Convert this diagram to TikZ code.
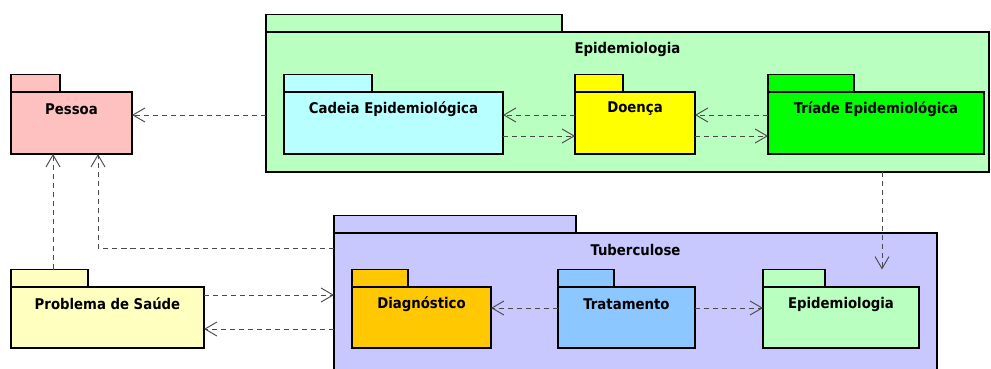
\documentclass[tikz,border=0pt]{standalone}
\usepackage{fontspec}
\setmainfont{DejaVu Sans Condensed}
\usetikzlibrary{arrows.meta,fit}

\definecolor{pessoafill}{HTML}{FFC0C0}
\definecolor{epifill}{HTML}{B8FFC0}
\definecolor{cadeiafill}{HTML}{B8FFFF}
\definecolor{doencafill}{HTML}{FFFF00}
\definecolor{triadefill}{HTML}{00FF00}
\definecolor{tuberfill}{HTML}{C8C8FF}
\definecolor{diagfill}{HTML}{FFC800}
\definecolor{tratfill}{HTML}{8CC8FF}
\definecolor{probfill}{HTML}{FFFFC0}
\definecolor{depgray}{HTML}{4A4A4A}

\tikzset{
  pkgbody/.style={draw=black, line width=1.7pt, inner sep=0pt, outer sep=0pt},
  pkgtab/.style={draw=black, line width=1.7pt, inner sep=0pt, outer sep=0pt},
  pkgtitle/.style={font=\fontsize{12.6}{14}\selectfont\bfseries, inner sep=0pt},
  dep/.style={draw=depgray, line width=0.8pt, dash pattern=on 4.3pt off 3.4pt,
    -{Straight Barb[length=3.6mm, width=4.2mm, line width=0.8pt]}}
}

% name, x1, y1, x2, y2, tab width, fill, title
\newcommand{\pkg}[8]{%
  \node[pkgbody, fill=#7, fit={(#2,#3) (#4,#5)}] (#1) {};
  \node[pkgtab, fill=#7, fit={(#2,#3-17.5) (#2+#6,#3)}] (#1-tab) {};
  \path (#1.north) ++(0,17) node[pkgtitle] (#1-title) {#8};}

\begin{document}
\begin{tikzpicture}[x=0.03cm, y=-0.03cm]
  \useasboundingbox (0,0) rectangle (991,369);
  \clip (0,0) rectangle (991,369);

  %%%%% outer packages %%%%%
  \pkg{epiout}{266}{32}{989}{172}{296}{epifill}{Epidemiologia}
  \pkg{tuber}{334}{233}{937}{380}{242}{tuberfill}{Tuberculose}

  %%%%% left packages %%%%%
  \pkg{pessoa}{11}{92}{132}{154}{49}{pessoafill}{Pessoa}
  \pkg{problema}{11}{287}{204}{348}{77}{probfill}{Problema de Saúde}

  %%%%% inside Epidemiologia %%%%%
  \pkg{cadeia}{284}{92}{503}{154}{88}{cadeiafill}{Cadeia Epidemiológica}
  \pkg{doenca}{575}{92}{695}{154}{48}{doencafill}{Doença}
  \pkg{triade}{768}{92}{984}{154}{86}{triadefill}{Tríade Epidemiológica}

  %%%%% inside Tuberculose %%%%%
  \pkg{diag}{352}{287}{491}{348}{56}{diagfill}{Diagnóstico}
  \pkg{trat}{558}{287}{695}{348}{56}{tratfill}{Tratamento}
  \pkg{epiin}{763}{287}{919}{348}{62}{epifill}{Epidemiologia}

  %%%%% dependencies %%%%%
  \draw[dep] (epiout.west |- 0,115) -- (pessoa.east |- 0,115);
  \draw[dep] (doenca.west |- 0,115) -- (cadeia.east |- 0,115);
  \draw[dep] (cadeia.east |- 0,136) -- (doenca.west |- 0,136);
  \draw[dep] (triade.west |- 0,115) -- (doenca.east |- 0,115);
  \draw[dep] (doenca.east |- 0,136) -- (triade.west |- 0,136);
  \draw[dep] (epiout.south -| 882,0) -- (epiin-tab.north -| 882,0);

  \draw[dep] (problema-tab.north -| 53,0) -- (pessoa.south -| 53,0);
  \draw[dep] (tuber.west |- 0,248) -| (pessoa.south -| 98,0);
  \draw[dep] (problema.east |- 0,295) -- (tuber.west |- 0,295);
  \draw[dep] (tuber.west |- 0,329) -- (problema.east |- 0,329);

  \draw[dep] (trat.west |- 0,308) -- (diag.east |- 0,308);
  \draw[dep] (trat.east |- 0,308) -- (epiin.west |- 0,308);
\end{tikzpicture}
\end{document}
